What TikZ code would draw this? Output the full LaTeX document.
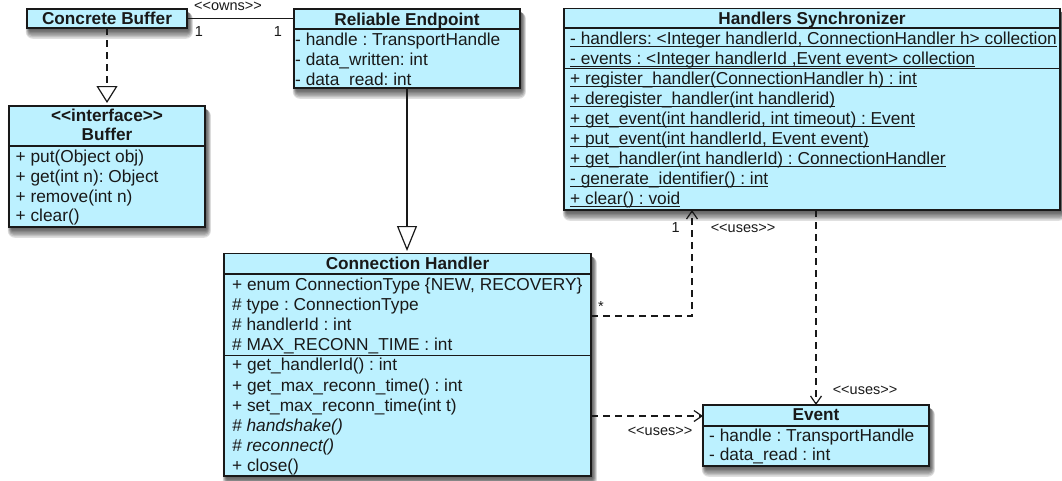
\documentclass[tikz,border=0pt]{standalone}
\usepackage{fontspec}
\setmainfont{Liberation Sans}
\usetikzlibrary{arrows.meta,calc}
\definecolor{boxfill}{RGB}{188,241,255}
\definecolor{ink}{RGB}{25,25,25}
\pgfdeclarelayer{shadow}
\pgfsetlayers{shadow,main}
\frenchspacing
\newcommand\rowfont{\fontsize{17.3}{20}\selectfont}
\newcommand\ttlfont{\fontsize{17.2}{20}\selectfont\bfseries}
\newcommand\lblfont{\fontsize{14.5}{16}\selectfont}
\newcommand\ulrow[1]{\underline{\smash{#1}}}
\begin{document}
\begin{tikzpicture}[x=1pt,y=-1pt,
  cls/.style={draw=ink, line width=1.4pt, fill=boxfill, inner sep=0pt, outer sep=0pt, anchor=north west},
  row/.style={anchor=base west, inner sep=0pt, font=\rowfont, text=ink},
  ttl/.style={anchor=base, inner sep=0pt, font=\ttlfont, text=ink},
  rule/.style={draw=ink, line width=1.4pt},
  lbl/.style={anchor=base, inner sep=0pt, font=\lblfont, text=ink},
  dep/.style={draw=ink, line width=1.2pt, dash pattern=on 7pt off 5pt,
    -{Straight Barb[length=8pt,width=11pt,line width=1.2pt]}},
  realize/.style={draw=ink, line width=1.2pt, dash pattern=on 7pt off 5pt,
    -{Triangle[open,length=17pt,width=21pt,line width=1.2pt]}, shorten >=3pt},
  inherit/.style={draw=ink, line width=1.2pt,
    -{Triangle[open,length=25pt,width=20pt,line width=1.2pt]}, shorten >=2.5pt},
  assoc/.style={draw=ink, line width=1.2pt},
]
\useasboundingbox (0,0) rectangle (1062,480);

% ---------- class boxes ----------
\node[cls, minimum width=160pt, minimum height=19pt] (cb) at (27,9) {};
\node[cls, minimum width=196pt, minimum height=121pt] (buf) at (9,106) {};
\node[cls, minimum width=226pt, minimum height=79pt] (re) at (294,9) {};
\node[cls, minimum width=496pt, minimum height=201.5pt] (hs) at (564,8.5) {};
\node[cls, minimum width=367pt, minimum height=222.5pt] (ch) at (224,253.5) {};
\node[cls, minimum width=226pt, minimum height=61pt] (ev) at (703,405) {};

% Concrete Buffer
\node[ttl] (cbT) at (107,24) {Concrete Buffer};

% Buffer interface
\node[ttl] (bufS) at (107,121.5) {<{}<interface>{}>};
\node[ttl] (bufT) at (107,140.7) {Buffer};
\draw[rule] (buf.west |- 0,146) -- (buf.east |- 0,146);
\node[row] (buf1) at (15.5,162) {+ put(Object obj)};
\node[row] (buf2) at (15.5,182) {+ get(int n): Object};
\node[row] (buf3) at (15.5,202) {+ remove(int n)};
\node[row] (buf4) at (15.5,221.5) {+ clear()};

% Reliable Endpoint
\node[ttl] (reT) at (407,25) {Reliable Endpoint};
\draw[rule] (re.west |- 0,29) -- (re.east |- 0,29);
\node[row] (re1) at (295,45) {- handle : TransportHandle};
\node[row] (re2) at (295,65) {- data\_written: int};
\node[row] (re3) at (295,85) {- data\_read: int};

% Handlers Synchronizer
\node[ttl] (hsT) at (812,24) {Handlers Synchronizer};
\draw[rule] (hs.west |- 0,28) -- (hs.east |- 0,28);
\node[row] (hs1) at (570,44.5) {\ulrow{- handlers: <Integer handlerId, ConnectionHandler h> collection}};
\node[row] (hs2) at (570,64.5) {\ulrow{- events : <Integer handlerId ,Event event> collection}};
\draw[rule] (hs.west |- 0,68.5) -- (hs.east |- 0,68.5);
\node[row] (hs3) at (570,84.5) {\ulrow{+ register\_handler(ConnectionHandler h) : int}};
\node[row] (hs4) at (570,104.5) {\ulrow{+ deregister\_handler(int handlerid)}};
\node[row] (hs5) at (570,124.5) {\ulrow{+ get\_event(int handlerid, int timeout) : Event}};
\node[row] (hs6) at (570,144.5) {\ulrow{+ put\_event(int handlerId, Event event)}};
\node[row] (hs7) at (570,164.5) {\ulrow{+ get\_handler(int handlerId) : ConnectionHandler}};
\node[row] (hs8) at (570,184.5) {\ulrow{- generate\_identifier() : int}};
\node[row] (hs9) at (570,204.5) {\ulrow{+ clear() : void}};

% Connection Handler
\node[ttl] (chT) at (407.5,269.3) {Connection Handler};
\draw[rule] (ch.west |- 0,274) -- (ch.east |- 0,274);
\node[row] (ch1) at (232,290) {+ enum ConnectionType \{NEW, RECOVERY\}};
\node[row] (ch2) at (232,310.2) {\# type : ConnectionType};
\node[row] (ch3) at (232,330.4) {\# handlerId : int};
\node[row] (ch4) at (232,350.6) {\# MAX\_RECONN\_TIME : int};
\draw[rule] (ch.west |- 0,355.5) -- (ch.east |- 0,355.5);
\node[row] (ch5) at (232,370.8) {+ get\_handlerId() : int};
\node[row] (ch6) at (232,391) {+ get\_max\_reconn\_time() : int};
\node[row] (ch7) at (232,411.2) {+ set\_max\_reconn\_time(int t)};
\node[row] (ch8) at (232,431.4) {\itshape \# handshake()};
\node[row] (ch9) at (232,451.6) {\itshape \# reconnect()};
\node[row] (ch10) at (232,471.8) {+ close()};

% Event
\node[ttl] (evT) at (816,420) {Event};
\draw[rule] (ev.west |- 0,426) -- (ev.east |- 0,426);
\node[row] (ev1) at (709,441) {- handle : TransportHandle};
\node[row] (ev2) at (709,460.7) {- data\_read : int};

% ---------- soft drop shadows ----------
\begin{pgfonlayer}{shadow}
  \foreach \n in {cb,buf,re,hs,ch,ev}{
    \foreach \i in {1,...,7}{
      \fill[black, opacity=0.12, rounded corners=\i pt]
        ($(\n.north west)+(3-0.6*\i,3)$) rectangle ($(\n.south east)+(1+0.7*\i,1+1.4*\i)$);
    }
  }
\end{pgfonlayer}

% ---------- connectors ----------
% Concrete Buffer realizes Buffer
\draw[realize] (cb.south) -- (buf.north);
% Concrete Buffer owned by Reliable Endpoint
\draw[assoc] (cb.east) -- (re.west |- cb.east);
\node[lbl] (owns) at (228,10.5) {<{}<owns>{}>};
\node[lbl] (m1) at (199,36.7) {1};
\node[lbl] (m2) at (278,36.7) {1};
% Reliable Endpoint specializes Connection Handler
\draw[inherit] (re.south) -- (re.south |- ch.north);
% Connection Handler uses Handlers Synchronizer
\coordinate (bend) at (692,316);
\draw[dep] (bend -| ch.east) -- (bend) -- (bend |- hs.south);
\node[lbl] (m3) at (675.7,232.7) {1};
\node[lbl] (star) at (601,311) {*};
\node[lbl] (uses1) at (743,232) {<{}<uses>{}>};
% Handlers Synchronizer uses Event
\draw[dep] (ev.north |- hs.south) -- (ev.north);
\node[lbl] (uses2) at (865,394) {<{}<uses>{}>};
% Connection Handler uses Event
\coordinate (evIn) at (703,416);
\draw[dep] (evIn -| ch.east) -- (evIn -| ev.west);
\node[lbl] (uses3) at (660,435) {<{}<uses>{}>};
\end{tikzpicture}
\end{document}
